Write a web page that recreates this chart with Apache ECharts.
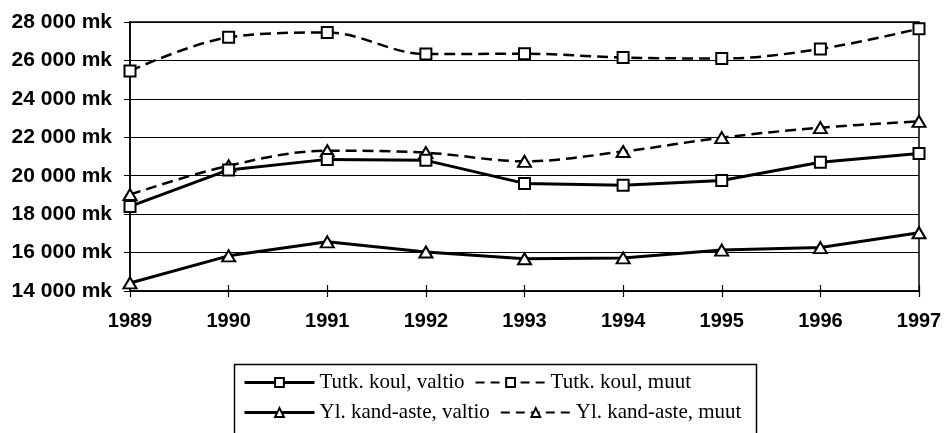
<!DOCTYPE html>
<html>
<head>
<meta charset="utf-8">
<script src="https://cdn.jsdelivr.net/npm/echarts@6/dist/echarts.min.js"></script>
<style>
html,body{margin:0;padding:0;background:#fff;}
#c{width:945px;height:433px;}
</style>
</head>
<body>
<div id="c"></div>
<script>
var years = ['1989','1990','1991','1992','1993','1994','1995','1996','1997'];
var tutkValtio = [18400, 20300, 20850, 20800, 19600, 19500, 19750, 20700, 21150];
var tutkMuut   = [25450, 27200, 27450, 26330, 26350, 26150, 26100, 26600, 27650];
var ylValtio   = [14420, 15830, 16560, 16030, 15680, 15720, 16130, 16260, 17030];
var ylMuut     = [19020, 20520, 21300, 21200, 20750, 21260, 21980, 22500, 22830];
var seriesNames = ['Tutk. koul, valtio', 'Tutk. koul, muut', 'Yl. kand-aste, valtio', 'Yl. kand-aste, muut'];

function fmt(v){
  var s = String(v);
  return s.slice(0, s.length-3) + ' ' + s.slice(s.length-3) + ' mk';
}

var chart = echarts.init(document.getElementById('c'), null, {renderer:'canvas'});

function mk(name, data, dashed, symbol){
  return {
    name: name,
    type: 'line',
    data: data,
    xAxisIndex: 0,
    smooth: dashed ? 0.35 : false,
    symbol: symbol,
    symbolSize: symbol === 'triangle' ? [13, 11] : 11,
    showSymbol: true,
    lineStyle: {color:'#000', width: dashed ? 2.5 : 3, type: dashed ? [11,6] : 'solid'},
    itemStyle: {color:'#fff', borderColor:'#000', borderWidth:2},
    z: dashed ? 3 : 4,
    animation: false
  };
}

function legItem(name, dashed){
  return {name: name, lineStyle:{color:'#000', width: dashed ? 2 : 3, type: dashed ? [9,6] : 'solid'}};
}

var legendCommon = {
  itemWidth: 70,
  itemHeight: 11,
  itemGap: 10,
  textStyle: {fontFamily:'Liberation Serif', fontSize:21, color:'#000'},
  inactiveColor:'#000',
  selectedMode:false
};

var option = {
  backgroundColor:'#fff',
  animation:false,
  grid: {left:130, right:26, top:22, bottom:142, show:true, borderColor:'#000', borderWidth:1.5, backgroundColor:'transparent'},
  xAxis: [{
    type:'category', data: years, boundaryGap:false,
    axisLine:{lineStyle:{color:'#000', width:1.5}},
    axisTick:{show:true, length:6, lineStyle:{color:'#000', width:1.2}},
    axisLabel:{fontFamily:'Liberation Sans', fontSize:20, fontWeight:'bold', color:'#000', margin:20}
  },{
    type:'category', data: years, boundaryGap:false, position:'bottom',
    axisLine:{show:false},
    axisTick:{show:true, inside:true, length:6, lineStyle:{color:'#000', width:1.2}},
    axisLabel:{show:false}
  }],
  yAxis: {
    type:'value', min:14000, max:28000, interval:2000,
    axisLine:{show:true, lineStyle:{color:'#000', width:1.5}},
    axisTick:{show:true, length:6, lineStyle:{color:'#000'}},
    splitLine:{show:true, lineStyle:{color:'#000', width:1}},
    axisLabel:{fontFamily:'Liberation Sans', fontSize:21, fontWeight:'bold', color:'#000', margin:18, formatter: fmt}
  },
  legend: [
    Object.assign({left:238, top:367, data:[legItem(seriesNames[0], false), legItem(seriesNames[1], true)]}, legendCommon),
    Object.assign({left:238, top:397, data:[legItem(seriesNames[2], false), legItem(seriesNames[3], true)]}, legendCommon)
  ],
  graphic: [{
    type:'rect', left:232, top:362, shape:{x:0, y:0, width:522, height:100},
    style:{fill:'none', stroke:'#000', lineWidth:1.5}, silent:true
  }],
  series: [
    mk(seriesNames[0], tutkValtio, false, 'rect'),
    mk(seriesNames[1], tutkMuut, true, 'rect'),
    mk(seriesNames[2], ylValtio, false, 'triangle'),
    mk(seriesNames[3], ylMuut, true, 'triangle')
  ]
};
chart.setOption(option);
</script>
</body>
</html>
